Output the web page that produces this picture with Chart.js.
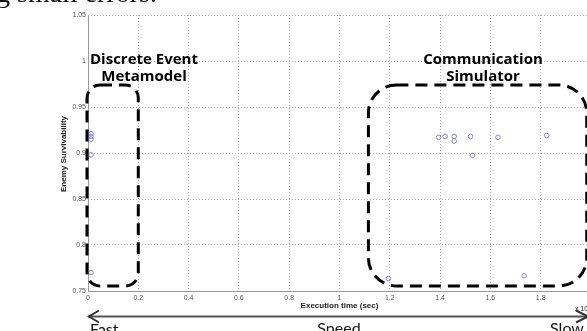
<!DOCTYPE html>
<html>
<head>
<meta charset="utf-8">
<script src="https://cdn.jsdelivr.net/npm/chart.js@4/dist/chart.umd.min.js"></script>
<style>
  html, body { margin: 0; padding: 0; background: #fff; overflow: hidden; }
  #wrap { position: relative; width: 600px; height: 331px; }
</style>
</head>
<body>
<div id="wrap"><canvas id="chart" width="600" height="331"></canvas></div>
<script>
// execution time (x 10^?) and enemy survivability
const metaTime = [0.012, 0.012, 0.012, 0.012, 0.012];
const metaSurv = [0.921, 0.918, 0.915, 0.898, 0.770];
const simTime = [1.394, 1.420, 1.456, 1.456, 1.521, 1.529, 1.630, 1.824, 1.194, 1.734];
const simSurv = [0.917, 0.918, 0.918, 0.913, 0.918, 0.8975, 0.917, 0.919, 0.7635, 0.7665];
const xTicks = [0, 0.2, 0.4, 0.6, 0.8, 1, 1.2, 1.4, 1.6, 1.8, 2];
const yTicks = [0.75, 0.8, 0.85, 0.9, 0.95, 1, 1.05];

// dashed groupings, in data units
const groupBoxes = [
    { x0: -0.004, x1: 0.2, y0: 0.7555, y1: 0.974, r: 13 },
    { x0: 1.115, x1: 1.983, y0: 0.7555, y1: 0.974, r: 28 }
];

function toPoints(xs, ys) {
    return xs.map((x, i) => ({ x: x, y: ys[i] }));
}

function tickText(v) {
    return String(Math.round(v * 100) / 100);
}

const overlay = {
    id: "overlay",
    beforeDatasetsDraw(chart) {
        // solid axis lines on the left and bottom
        const c = chart.ctx, a = chart.chartArea;
        c.save();
        c.strokeStyle = "#999";
        c.lineWidth = 1;
        c.beginPath();
        c.moveTo(a.left + 0.5, a.top);
        c.lineTo(a.left + 0.5, a.bottom + 0.5);
        c.lineTo(a.right, a.bottom + 0.5);
        c.stroke();
        c.restore();
    },
    afterDatasetsDraw(chart) {
        const c = chart.ctx;
        const xs = chart.scales.x, ys = chart.scales.y;

        // dashed rounded boxes
        c.save();
        c.strokeStyle = "#000";
        c.lineWidth = 3;
        c.setLineDash([12, 7]);
        groupBoxes.forEach(b => {
            const l = xs.getPixelForValue(b.x0), r = xs.getPixelForValue(b.x1);
            const t = ys.getPixelForValue(b.y1), btm = ys.getPixelForValue(b.y0);
            c.beginPath();
            c.roundRect(l, t, r - l, btm - t, b.r);
            c.stroke();
        });
        c.restore();

        c.save();
        c.fillStyle = "#000";
        c.textAlign = "center";
        c.textBaseline = "alphabetic";
        c.font = "bold 15px 'Open Sans'";
        c.fillText("Discrete Event", 144, 64);
        c.fillText("Metamodel", 144, 81);
        c.fillText("Communication", 483, 64);
        c.fillText("Simulator", 483, 81);

        // axis titles
        c.fillStyle = "#222";
        c.font = "bold 8px 'Liberation Sans'";
        c.fillText("Execution time (sec)", xs.getPixelForValue(1), 308);
        c.save();
        c.translate(64, 154);
        c.rotate(-Math.PI / 2);
        c.textBaseline = "middle";
        c.fillText("Enemy Survivability", 0, 0);
        c.restore();
        c.font = "7px 'Liberation Sans'";
        c.textAlign = "left";
        c.fillText("x 10", 575, 311);

        // speed arrow
        c.strokeStyle = "#555";
        c.lineWidth = 2;
        c.beginPath();
        c.moveTo(88, 316.5);
        c.lineTo(589, 316.5);
        c.stroke();
        c.strokeStyle = "#333";
        c.beginPath();
        c.moveTo(99, 310.5);
        c.lineTo(89, 316.5);
        c.lineTo(99, 322.5);
        c.moveTo(576, 310.5);
        c.lineTo(588, 316.5);
        c.lineTo(576, 322.5);
        c.stroke();

        c.fillStyle = "#111";
        c.font = "16px Lato";
        c.textAlign = "left";
        c.fillText("Fast", 90, 335);
        c.textAlign = "center";
        c.fillText("Speed", 339, 334);
        c.fillText("Slow", 567, 334);

        // bit of body text above the figure
        c.font = "28px 'Liberation Serif'";
        c.textAlign = "left";
        c.fillText("g small errors.", -4, 2);
        c.restore();
    }
};

new Chart(document.getElementById("chart"), {
    type: "scatter",
    data: {
        datasets: [
            {
                label: "Discrete Event Metamodel",
                data: toPoints(metaTime, metaSurv),
                borderColor: "#8080ff",
                backgroundColor: "rgba(0,0,0,0)",
                borderWidth: 1,
                pointRadius: 2.3
            },
            {
                label: "Communication Simulator",
                data: toPoints(simTime, simSurv),
                borderColor: "#8080ff",
                backgroundColor: "rgba(0,0,0,0)",
                borderWidth: 1,
                pointRadius: 2.3
            }
        ]
    },
    options: {
        responsive: false,
        animation: false,
        layout: { padding: { top: 15, right: 9, left: 0, bottom: 0 } },
        plugins: {
            legend: { display: false },
            tooltip: { enabled: false }
        },
        scales: {
            x: {
                type: "linear",
                min: 0,
                max: 2,
                afterBuildTicks: s => { s.ticks = xTicks.map(v => ({ value: v })); },
                afterFit: s => { s.height = 40; },
                grid: { color: "#aaa", drawTicks: false },
                border: { display: false, dash: [1, 2] },
                ticks: { font: { size: 7, family: "Liberation Sans" }, color: "#555", padding: 3, maxRotation: 0, callback: tickText }
            },
            y: {
                type: "linear",
                min: 0.75,
                max: 1.05,
                afterBuildTicks: s => { s.ticks = yTicks.map(v => ({ value: v })); },
                afterFit: s => { s.width = 88; },
                grid: { color: "#aaa", drawTicks: false },
                border: { display: false, dash: [1, 2] },
                ticks: { font: { size: 7, family: "Liberation Sans" }, color: "#555", padding: 2, callback: tickText }
            }
        }
    },
    plugins: [overlay]
});
</script>
</body>
</html>
